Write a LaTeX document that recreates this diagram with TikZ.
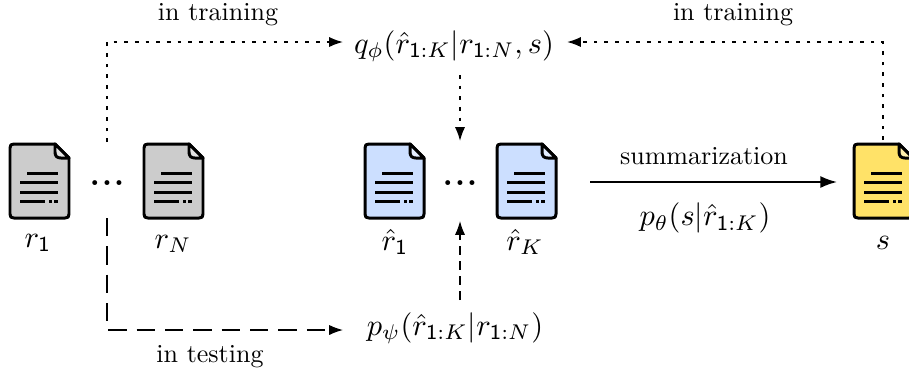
\documentclass[tikz,border=0pt]{standalone}
\usetikzlibrary{arrows.meta}
\definecolor{docgray}{RGB}{204,204,204}
\definecolor{docblue}{RGB}{204,223,255}
\definecolor{docyellow}{RGB}{255,226,104}
\tikzset{
  x=0.3846pt,y=-0.3846pt,
  docline/.style={line width=1.15pt,black},
  docout/.style={line width=1.15pt,black,line join=round},
  conn/.style={line width=0.62pt,-{Latex[length=5.3pt,width=3.9pt]}},
  solidconn/.style={line width=0.7pt,-{Latex[length=6.4pt,width=4.6pt]}},
  dotconn/.style={conn,dash pattern=on 1.4pt off 2.7pt},
  dashconn/.style={conn,line width=0.5pt,dash pattern=on 7pt off 3.9pt},
  shortdash/.style={conn,line width=0.5pt,dash pattern=on 3.5pt off 2.3pt},
  lbl/.style={inner sep=0pt,outer sep=0pt,anchor=center},
  mathlbl/.style={lbl,scale=1.17},
  dotslbl/.style={inner sep=0pt,outer sep=0pt,anchor=base,font=\bfseries,scale=1.2},
  pics/docicon/.style={code={
    \draw[docout,fill=#1] (45,0) -- (4,0) .. controls (1,0) and (0,1) .. (0,4) -- (0,70) .. controls (0,73) and (1,74) .. (4,74) -- (55,74) .. controls (58,74) and (59,73) .. (59,70) -- (59,14) -- cycle;
    \draw[docout,fill=white!45!#1] (45,0) -- (45,8) .. controls (45,12) and (47,14) .. (51,14) -- (59,14) -- cycle;
    \draw[docline] (17,29) -- (48,29);
    \draw[docline] (10,38.5) -- (48,38.5);
    \draw[docline] (10,48) -- (48,48);
    \draw[docline] (10,57.5) -- (35,57.5);
    \draw[docline] (39,57.5) -- (42,57.5);
    \draw[docline] (44,57.5) -- (48,57.5);
  }}
}
\begin{document}
\begin{tikzpicture}
\useasboundingbox (0,0) rectangle (909,372);
\clip (0,0) rectangle (909,372);
\pic at (10,144) {docicon=docgray};
\pic at (144,144) {docicon=docgray};
\pic at (365,144) {docicon=docblue};
\pic at (497,144) {docicon=docblue};
\pic at (854,144) {docicon=docyellow};
\node[mathlbl] (r1) at (38,243) {$r_{\mathsf{1}}$};
\node[mathlbl] (rN) at (173,244) {$r_{N}$};
\node[mathlbl] (h1) at (395,242) {$\hat r_{\mathsf{1}}$};
\node[mathlbl] (hK) at (525,242) {$\hat r_{K}$};
\node[mathlbl] (sn) at (883,243) {$s$};
\node[dotslbl] (dl) at (107,185) {\textbf{.}\kern0.7pt\textbf{.}\kern0.7pt\textbf{.}};
\node[dotslbl] (dm) at (460,185) {\textbf{.}\kern0.7pt\textbf{.}\kern0.7pt\textbf{.}};
\node[mathlbl] (q) at (454,46) {$q_{\phi}(\hat r_{\mathsf{1}:K}|r_{\mathsf{1}:N},s)$};
\node[mathlbl] (p) at (455,328) {$p_{\psi}(\hat r_{\mathsf{1}:K}|r_{\mathsf{1}:N})$};
\node[lbl] (t1) at (218,15) {in training};
\node[lbl] (t2) at (733,15) {in training};
\node[lbl] (t3) at (210,357) {in testing};
\node[lbl] (su) at (704,156) {summarization};
\node[mathlbl] (pt) at (705,218) {$p_{\theta}(s|\hat r_{\mathsf{1}:K})$};
\coordinate (a1) at (107,142);
\coordinate (a2) at (107,42);
\coordinate (a3) at (343,42);
\coordinate (b1) at (883,140);
\coordinate (b2) at (883,42);
\coordinate (b3) at (567,42);
\coordinate (c1) at (460,75);
\coordinate (c2) at (460,141);
\coordinate (d1) at (460,300);
\coordinate (d2) at (460,221);
\coordinate (e1) at (107,218);
\coordinate (e2) at (107,330);
\coordinate (e3) at (343,330);
\coordinate (f1) at (590,182);
\coordinate (f2) at (837,182);
\draw[dotconn] (a1) -- (a2) -- (a3);
\draw[dotconn] (b1) -- (b2) -- (b3);
\draw[dotconn] (c1) -- (c2);
\draw[shortdash] (d1) -- (d2);
\draw[dashconn] (e1) -- (e2) -- (e3);
\draw[solidconn] (f1) -- (f2);
\end{tikzpicture}
\end{document}
